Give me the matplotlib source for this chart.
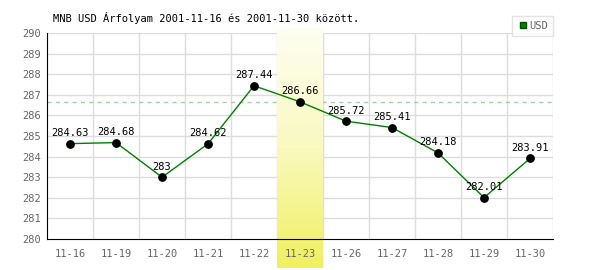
import numpy as np
import matplotlib
matplotlib.use("Agg")
from matplotlib import pyplot as plt
from matplotlib.colors import LinearSegmentedColormap

datumok = ["11-16", "11-19", "11-20", "11-21", "11-22", "11-23",
           "11-26", "11-27", "11-28", "11-29", "11-30"]
arfolyam = [284.63, 284.68, 283, 284.62, 287.44, 286.66,
            285.72, 285.41, 284.18, 282.01, 283.91]
cimkek = ["284.63", "284.68", "283", "284.62", "287.44", "286.66",
          "285.72", "285.41", "284.18", "282.01", "283.91"]
kiemelt = 5  # 11-23
y_ticks = list(range(280, 291))

plt.rcParams['font.family'] = ['DejaVu Sans Mono']

fig = plt.figure(figsize=(6, 2.7), dpi=100)
ax = fig.add_axes([47/600, 1-239/270, 506/600, 206/270])

x = np.arange(len(datumok))
ax.set_xlim(-0.5, len(datumok) - 0.5)
ax.set_ylim(280, 290)

# racs
for yy in y_ticks[1:]:
    ax.axhline(yy, color="#dddddd", lw=1, zorder=1)
for xx in np.arange(0.5, len(datumok), 1):
    ax.axvline(xx, color="#dddddd", lw=1, zorder=1)

ax.axhline(arfolyam[kiemelt], color="#aacaaa", lw=1, ls=(0, (3, 3)), zorder=1.2)

# kiemelt nap szines savja (gradiens), a racs folott
cmap = LinearSegmentedColormap.from_list("sav", ["#fefef2", "#f9f9c0", "#f0f060"])
grad = np.linspace(0, 1, 100).reshape(-1, 1)
ax.imshow(grad, cmap=cmap, aspect="auto", origin="upper",
          extent=[kiemelt - 0.5, kiemelt + 0.5, 278.6, 290.25],
          clip_on=False, zorder=1.5)

ax.plot(x, arfolyam, color="#008000", lw=1, zorder=3)
ax.scatter(x, arfolyam, s=28, color="black", zorder=4)
for xi, yi, c in zip(x, arfolyam, cimkek):
    ax.annotate(c, (xi, yi), xytext=(0, 4), textcoords="offset points",
                ha="center", va="bottom", fontsize=7.5, color="black", zorder=5)

ax.set_xticks(x)
ax.set_xticklabels(datumok)
ax.set_yticks(y_ticks)
ax.tick_params(axis="both", length=0, labelsize=7.5, colors="#666666")
ax.tick_params(axis="x", pad=7)
ax.tick_params(axis="y", pad=4)
for s in ["top", "right"]:
    ax.spines[s].set_visible(False)
ax.spines["left"].set_color("black")
ax.spines["bottom"].set_color("black")
ax.spines["left"].set_zorder(6)
ax.spines["bottom"].set_zorder(6)
ax.set_facecolor("white")

fig.text(53/600, 1-18/270, "MNB USD Árfolyam 2001-11-16 és 2001-11-30 között.",
         fontsize=7.5, color="black", va="center", ha="left")

# jelmagyarazat
leg = ax.legend(handles=[plt.Line2D([], [], marker="s", ls="", color="#008000",
                                    markeredgecolor="#005000", markersize=5, label="USD")],
                loc="lower right", bbox_to_anchor=(553/600, 1-36/270),
                bbox_transform=fig.transFigure, frameon=True, fancybox=False,
                fontsize=7.5, handletextpad=0.1, borderpad=0.5, handlelength=1,
                borderaxespad=0)
leg.get_frame().set_edgecolor("#dddddd")
leg.get_frame().set_linewidth(1)
for t in leg.get_texts():
    t.set_color("#666666")

fig.savefig("out.png", dpi=100)
